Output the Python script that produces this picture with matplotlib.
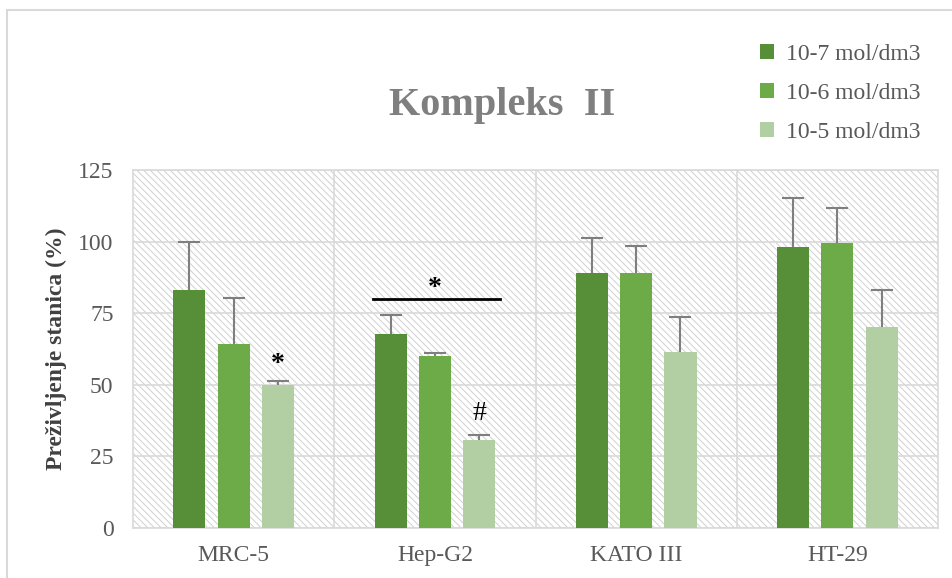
import numpy as np
import matplotlib.pyplot as plt
from matplotlib.patches import Rectangle

plt.rcParams['font.family'] = ['Liberation Serif', 'DejaVu Serif']
plt.rcParams['hatch.linewidth'] = 0.7

cells = ['MRC-5', 'Hep-G2', 'KATO III', 'HT-29']
labels = ['10-7 mol/dm3', '10-6 mol/dm3', '10-5 mol/dm3']
means = [
    [83.1, 67.7, 89.0, 98.1],
    [64.2, 60.0, 89.0, 99.5],
    [49.9, 30.7, 61.5, 70.2],
]
errs = [
    [16.8, 6.7, 12.3, 17.1],
    [16.1, 1.0, 9.5, 12.2],
    [1.4, 1.8, 12.2, 12.9],
]
colors = ['#578E38', '#6DAA48', '#B2CFA3']

fig = plt.figure(figsize=(9.52, 5.78), dpi=100)
ax = fig.add_axes([133/952, 1 - 528/578, 805/952, 358/578])

# chart border
fig.patches.append(Rectangle((7/952, -0.1), 1.2, 1 - 10/578 + 0.1, transform=fig.transFigure,
                             fill=False, edgecolor='#d9d9d9', linewidth=1.5))

# hatched plot background
ax.add_patch(Rectangle((0, 0), 1, 1, transform=ax.transAxes, facecolor='white',
                       edgecolor='#d0d0d0', hatch='\\\\\\\\\\', linewidth=0, zorder=0))

x = np.arange(len(cells))
w = 0.16
step = 0.22
for i in range(3):
    bc = ax.bar(x + (i - 1) * step, means[i], w, color=colors[i], label=labels[i], zorder=3,
                yerr=[np.zeros(4), errs[i]],
                error_kw=dict(ecolor='#7f7f7f', elinewidth=1.5, capsize=8, capthick=1.5, zorder=4))
    # only the upper cap, like the original
    bc.errorbar.lines[1][0].set_visible(False)

ax.set_xlim(-0.5, 3.5)
ax.set_ylim(0, 125)
ax.set_yticks([0, 25, 50, 75, 100, 125])
ax.set_xticks(x)
ax.set_xticklabels(cells)
ax.set_xticks([0.5, 1.5, 2.5], minor=True)
ax.grid(True, axis='y', color='#d9d9d9', linewidth=1.2, zorder=1)
ax.grid(True, axis='x', which='minor', color='#d9d9d9', linewidth=1.2, zorder=1)
ax.tick_params(axis='both', which='both', length=0, labelsize=17, colors='#595959')
ax.tick_params(axis='x', pad=12)
ax.tick_params(axis='y', pad=14)
for s in ax.spines.values():
    s.set_color('#d9d9d9')
    s.set_linewidth(1.2)
ax.set_axisbelow(True)

ax.set_ylabel('Preživljenje stanica (%)', fontsize=17, fontweight='bold', color='#404040')
ax.yaxis.set_label_coords(-0.082, 0.5)

fig.text(502/952, 1 - 105/578, 'Kompleks  II', ha='center', va='center', fontsize=29,
         fontweight='bold', color='#7f7f7f')

# significance marks
ax.plot([0.693, 1.324], [80, 80], color='black', linewidth=2, zorder=5)
ax.text(1.0, 83.5, '*', ha='center', va='center', fontsize=20, fontweight='bold')
ax.text(0.22, 57, '*', ha='center', va='center', fontsize=20, fontweight='bold')
ax.text(1.22, 40, '#', ha='center', va='center', fontsize=20)

leg = fig.legend(loc='upper left', bbox_to_anchor=(739/952, 1 - 23/578), frameon=False,
                 fontsize=17, handlelength=0.6, handleheight=0.6, labelspacing=0.75, handletextpad=0.5)
for t in leg.get_texts():
    t.set_color('#595959')

fig.savefig('out.png', dpi=100)
